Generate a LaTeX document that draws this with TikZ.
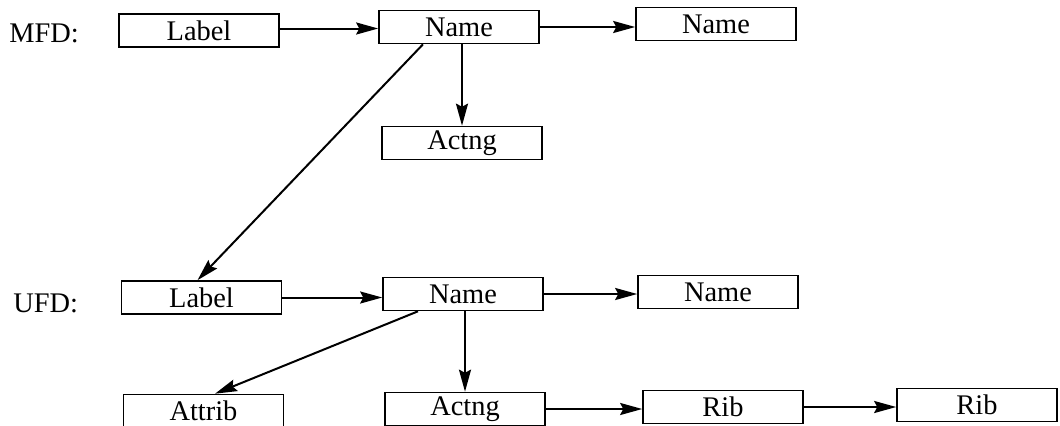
\documentclass[tikz,border=0pt]{standalone}
\usepackage{fontspec}
\setmainfont{Liberation Serif}
\usetikzlibrary{arrows.meta}
\begin{document}
\begin{tikzpicture}[x=0.5pt,y=0.5pt,>={Stealth[length=11pt,width=6pt,inset=1.5pt]},
    font=\fontsize{14.2}{16}\selectfont,
    fbox/.style={draw,line width=0.8pt,minimum width=80pt,minimum height=16.5pt,inner sep=0pt},
    flow/.style={->,line width=1pt}]
  \clip (0,0) rectangle (1060,425);

  \node[anchor=base west,inner sep=0pt] (mfd) at (9,383) {MFD:};
  \node[fbox] (mlabel) at (199,394.5) {Label};
  \node[fbox] (mname) at (459,398) {Name};
  \node[fbox] (mnext) at (716,401) {Name};
  \node[fbox] (mactng) at (462,282) {Actng};

  \node[anchor=base west,inner sep=0pt] (ufd) at (13,113) {UFD:};
  \node[fbox] (ulabel) at (201.5,127.5) {Label};
  \node[fbox] (uname) at (463,131) {Name};
  \node[fbox] (unext) at (718,133) {Name};
  \node[fbox] (attrib) at (203.5,14) {Attrib};
  \node[fbox] (uactng) at (465,16) {Actng};
  \node[fbox] (rib) at (723,18) {Rib};
  \node[fbox] (ribnext) at (977,20) {Rib};

  \draw[flow] ([yshift=1pt]mlabel.east) -- ([yshift=1pt]mlabel.east -| mname.west);
  \draw[flow] (mname.east) -- (mname.east -| mnext.west);
  \draw[flow] (mactng.north |- mname.south) -- (mactng.north);
  \draw[flow] ([xshift=-18pt]mname.south) -- ([xshift=-2pt]ulabel.north);

  \draw[flow] (ulabel.east) -- (ulabel.east -| uname.west);
  \draw[flow] (uname.east) -- (uname.east -| unext.west);
  \draw[flow] (uactng.north |- uname.south) -- (uactng.north);
  \draw[flow] ([xshift=-22.5pt]uname.south) -- ([xshift=5.75pt]attrib.north);
  \draw[flow] (uactng.east) -- (uactng.east -| rib.west);
  \draw[flow] (rib.east) -- (rib.east -| ribnext.west);
\end{tikzpicture}
\end{document}
